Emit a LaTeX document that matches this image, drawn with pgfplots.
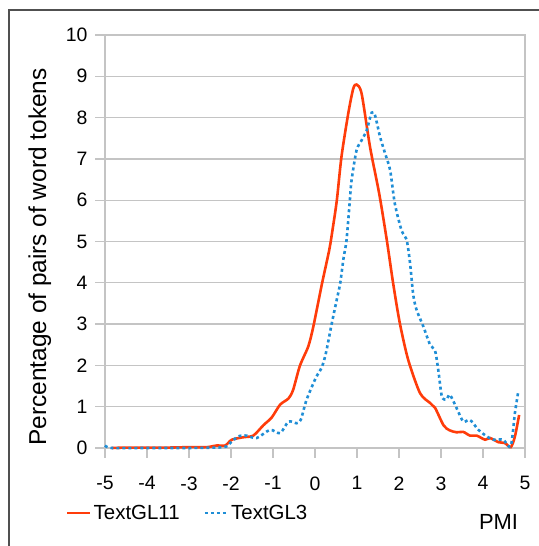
\documentclass[border=0pt]{standalone}
\usepackage{fontspec}
\setmainfont{Liberation Sans}
\usepackage{pgfplots}
\pgfplotsset{compat=1.18}
\definecolor{redline}{HTML}{FF3C0A}
\definecolor{blueline}{HTML}{1F8ED6}
\definecolor{gridgray}{HTML}{C4C4C4}
\definecolor{framegray}{HTML}{505050}
\begin{document}
\begin{tikzpicture}[x=1bp,y=1bp]
\useasboundingbox (0,0) rectangle (539,546);
\draw[framegray, line width=1.2bp] (9,-5) -- (9,536) -- (545,536);
\begin{axis}[
    at={(105bp,98bp)}, anchor=south west,
    scale only axis, width=420bp, height=413bp,
    xmin=-5, xmax=5, ymin=0, ymax=10,
    xtick={-5,-4,...,5},
    xticklabels={-5,-4,-3,-2,-1,0,1,2,3,4,5},
    ytick={0,1,...,10},
    yticklabels={0,1,2,3,4,5,6,7,8,9,10},
    tick align=outside,
    major tick length=10bp,
    tick style={gridgray, line width=1.3bp},
    xtick pos=bottom, ytick pos=left,
    ymajorgrids,
    grid style={gridgray, line width=1.3bp},
    axis line style={gridgray, line width=1.3bp},
    ticklabel style={font=\fontsize{19.5}{22}\selectfont},
    xticklabel style={yshift=-15bp},
    yticklabel style={xshift=-4bp},
    /pgf/number format/assume math mode=true,
    ylabel={Percentage of pairs of word tokens},
    ylabel style={at={(rel axis cs:-0.155,0.4625)}, anchor=center, rotate=0, font=\fontsize{24.5}{28}\selectfont},
    xlabel={PMI},
    xlabel style={at={(rel axis cs:0.937,-0.178)}, anchor=center, font=\fontsize{22}{26}\selectfont},
    legend columns=2,
    legend style={at={(rel axis cs:-0.093,-0.157)}, anchor=west, draw=none, fill=none,
        font=\fontsize{20.5}{24}\selectfont, inner sep=0pt,
        /tikz/every even column/.append style={column sep=22bp}},
    legend image code/.code={\draw[#1] (0bp,0bp) -- (23bp,0bp);},
    clip=false,
]
\addplot[redline, line width=2.6bp, smooth, tension=0.45] coordinates {
(-4.84,0) (-4.5,0.01) (-4,0.01) (-3.5,0.01) (-3,0.02) (-2.58,0.02) (-2.34,0.06) (-2.14,0.06)
(-1.98,0.2) (-1.71,0.26) (-1.47,0.3) (-1.23,0.55) (-1.03,0.74) (-0.83,1.05) (-0.63,1.2)
(-0.52,1.41) (-0.36,1.99) (-0.16,2.46) (-0.04,2.94) (0.16,3.95) (0.34,4.8) (0.42,5.3)
(0.52,6.0) (0.63,7.05) (0.79,8.09) (0.91,8.70) (0.99,8.80) (1.11,8.58) (1.31,7.29)
(1.53,6.15) (1.71,5.03) (1.86,3.99) (2.02,3.02) (2.22,2.13) (2.5,1.33) (2.74,1.09)
(2.86,0.97) (3.06,0.55) (3.2,0.43) (3.37,0.38) (3.53,0.39) (3.69,0.30) (3.85,0.30)
(4.05,0.2) (4.17,0.24) (4.37,0.14) (4.52,0.12) (4.66,0.02) (4.76,0.28) (4.86,0.8)
};
\addlegendentry{TextGL11}
\addplot[blueline, line width=2.6bp, dash pattern=on 3bp off 3bp, smooth, tension=0.45] coordinates {
(-5,0.06) (-4.84,0) (-4,0) (-3,0) (-2.18,0.02) (-2.02,0.12) (-1.83,0.28) (-1.63,0.3)
(-1.39,0.24) (-1.07,0.44) (-0.83,0.36) (-0.63,0.64) (-0.44,0.6) (-0.34,0.68) (-0.2,1.17)
(0.02,1.7) (0.16,1.95) (0.26,2.3) (0.40,3.02) (0.52,3.6) (0.6,3.99) (0.68,4.6) (0.75,5.03)
(0.83,6.0) (0.87,6.48) (0.99,7.21) (1.11,7.45) (1.23,7.69) (1.35,8.12) (1.43,8.05)
(1.55,7.53) (1.67,7.13) (1.79,6.72) (1.90,5.92) (2.06,5.27) (2.18,5.05) (2.26,4.5)
(2.34,3.7) (2.42,3.34) (2.58,2.94) (2.74,2.5) (2.86,2.35) (2.94,1.85) (3.02,1.25)
(3.13,1.17) (3.21,1.29) (3.37,0.97) (3.53,0.64) (3.69,0.68) (3.89,0.44) (4.09,0.28)
(4.25,0.2) (4.48,0.2) (4.66,0.04) (4.76,0.85) (4.84,1.37)
};
\addlegendentry{TextGL3}
\end{axis}
\end{tikzpicture}
\end{document}
